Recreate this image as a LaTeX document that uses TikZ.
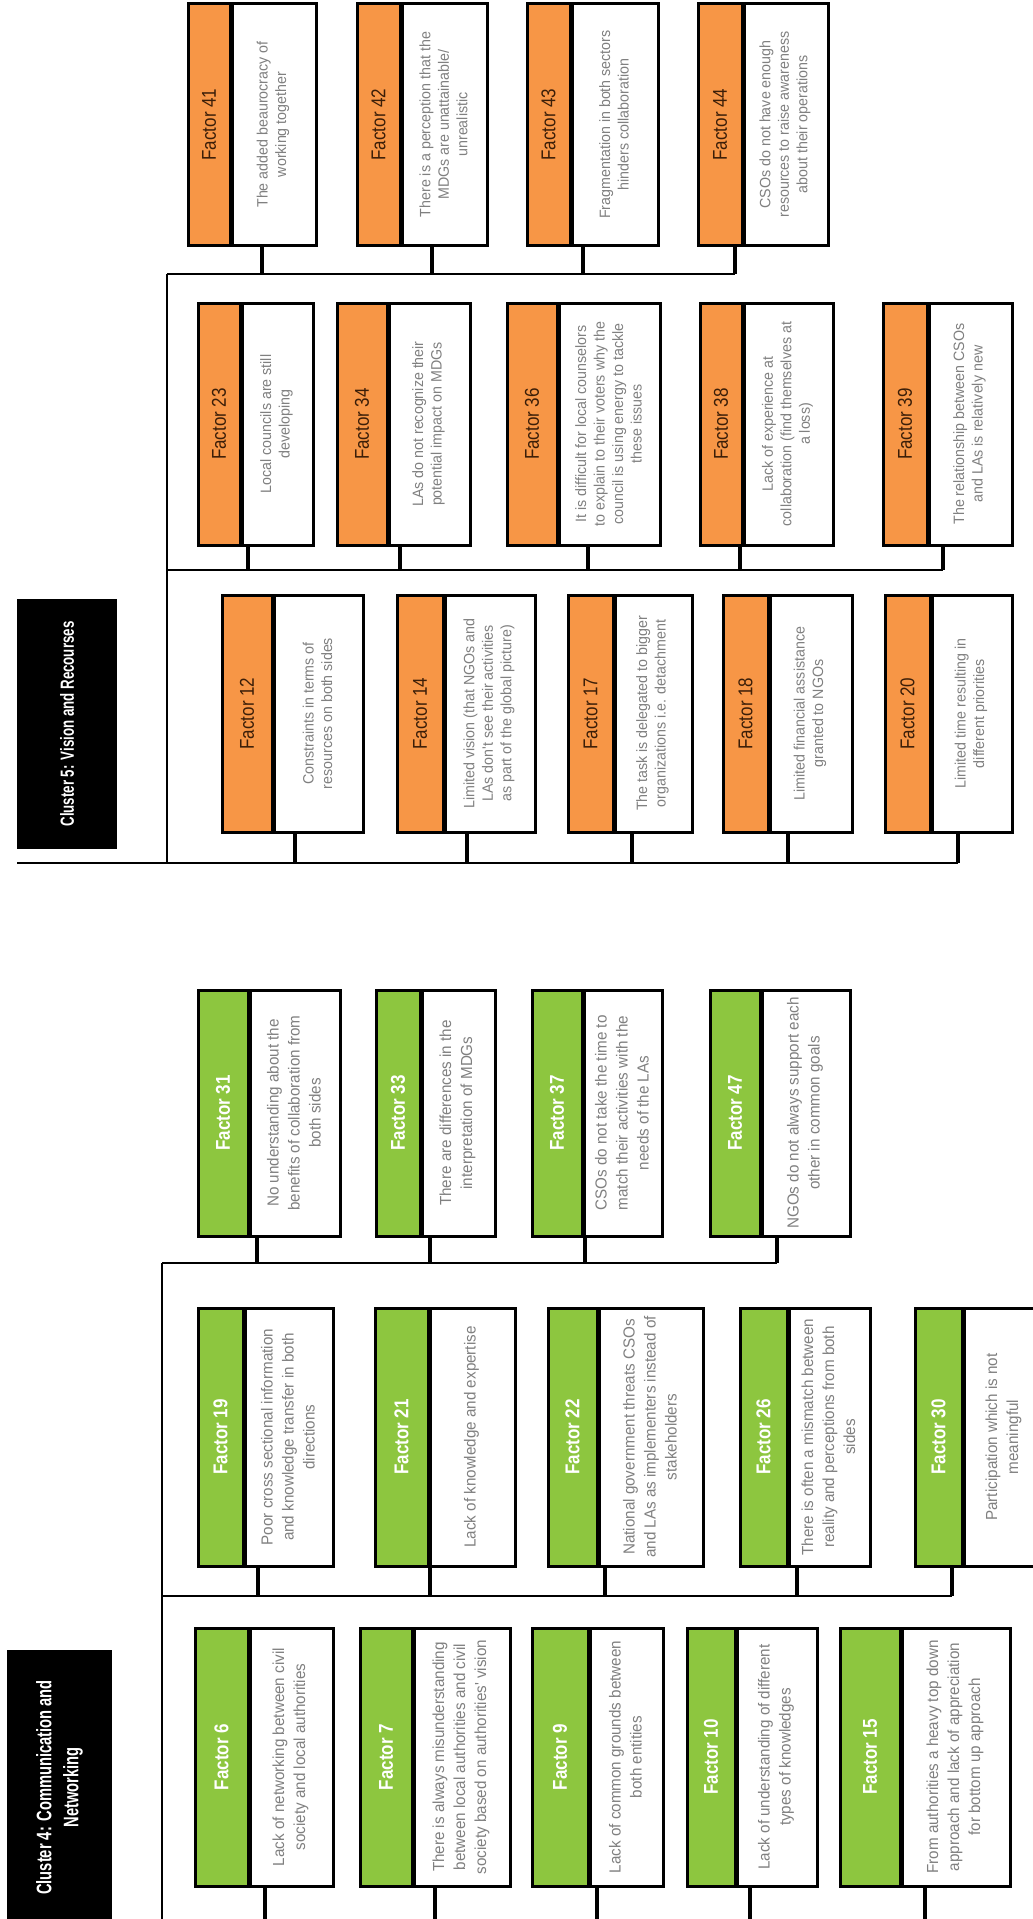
\documentclass[tikz,border=0pt]{standalone}
\usepackage{fontspec}
\newfontfamily\labfont[FakeStretch=0.85]{Liberation Sans}
\newfontfamily\bodyfont[FakeStretch=0.95]{Liberation Sans}
\newfontfamily\titfont[FakeStretch=0.7]{Liberation Sans}
\definecolor{orangeC}{HTML}{F79646}
\definecolor{greenC}{HTML}{8DC63F}
\definecolor{brownC}{HTML}{3B1E08}
\definecolor{grayC}{HTML}{808080}
\tikzset{
  outerbox/.style={rectangle, draw, line width=3pt, fill=white, rotate=90, inner sep=0pt},
  ostrip/.style={rectangle, draw, line width=3pt, fill=orangeC, rotate=90, inner sep=0pt, text=brownC, font=\labfont\fontsize{20}{22}\selectfont},
  gstrip/.style={rectangle, draw, line width=3pt, fill=greenC, rotate=90, inner sep=0pt, text=white, font=\labfont\bfseries\fontsize{20}{22}\selectfont},
  sepline/.style={line width=5pt},
  body5/.style={rotate=90, align=center, inner sep=0pt, text=grayC, font=\bodyfont\fontsize{15}{18.5}\selectfont},
  body4/.style={rotate=90, align=center, inner sep=0pt, text=grayC, font=\bodyfont\fontsize{16}{21}\selectfont},
  curbody/.style={body5},
  titlebox/.style={rectangle, fill=black, text=white, rotate=90, align=center, inner sep=0pt, font=\titfont\bfseries\fontsize{19}{26}\selectfont},
  bus/.style={line width=2.5pt},
  stubline/.style={line width=4pt},
}
% #1 id, #2 xl, #3 xs, #4 xr, #5 yt, #6 yb, #7 strip style, #8 label, #9 text
\newcommand\factorbox[9]{%
  \node[outerbox, minimum width={#6-#5}, minimum height={#4-#2}] (#1) at ({(#2+#4)/2},{(#5+#6)/2}) {};
  \node[#7, minimum width={#6-#5}, minimum height={#3-#2}] (#1h) at ({(#2+#3)/2},{(#5+#6)/2}) {#8};
  \draw[sepline] (#1h.south west) -- (#1h.south east);
  \node[curbody] (#1t) at ({(#3+#4)/2},{(#5+#6)/2}) {#9};
}
% #1 box id, #2 junction name, #3 x, #4 bus y
\newcommand\stubto[4]{%
  \coordinate (#2) at (#3,#4);
  \draw[stubline] (#1.west -| #2) -- (#2);
}
\begin{document}
\begin{tikzpicture}[x=1pt,y=-1pt]
\useasboundingbox (0,0) rectangle (1033,1919);
\fill[white] (0,0) rectangle (1033,1919);
\clip (0,0) rectangle (1033,1919);

% ===================== Cluster 5 =====================
\node[titlebox, minimum width=250, minimum height=100] (c5) at (67,724) {Cluster 5: Vision and Recourses};

% Row A
\factorbox{f41}{188}{230}{316}{4}{245}{ostrip}{Factor 41}{The added beaurocracy of\\working together}
\factorbox{f42}{357}{400}{487}{4}{245}{ostrip}{Factor 42}{There is a perception that the\\MDGs are unattainable/\\unrealistic}
\factorbox{f43}{527}{570}{658}{4}{245}{ostrip}{Factor 43}{Fragmentation in both sectors\\hinders collaboration}
\factorbox{f44}{698}{742}{828}{4}{245}{ostrip}{Factor 44}{CSOs do not have enough\\resources to raise awareness\\about their operations}
% Row B
\factorbox{f23}{198}{240}{313}{303}{545}{ostrip}{Factor 23}{Local councils are still\\developing}
\factorbox{f34}{337}{387}{470}{303}{545}{ostrip}{Factor 34}{LAs do not recognize their\\potential impact on MDGs}
\factorbox{f36}{507}{557}{660}{303}{545}{ostrip}{Factor 36}{It is difficult for local counselors\\to explain to their voters why the\\council is using energy to tackle\\these issues}
\factorbox{f38}{700}{742}{833}{303}{545}{ostrip}{Factor 38}{Lack of experience at\\collaboration (find themselves at\\a loss)}
\factorbox{f39}{883}{927}{1012}{303}{545}{ostrip}{Factor 39}{The relationship between CSOs\\and LAs is relatively new}
% Row C
\factorbox{f12}{222}{272}{363}{595}{832}{ostrip}{Factor 12}{Constraints in terms of\\resources on both sides}
\factorbox{f14}{397}{443}{535}{595}{832}{ostrip}{Factor 14}{Limited vision (that NGOs and\\LAs don't see their activities\\as part of the global picture)}
\factorbox{f17}{568}{613}{692}{595}{832}{ostrip}{Factor 17}{The task is delegated to bigger\\organizations i.e. detachment}
\factorbox{f18}{723}{768}{852}{595}{832}{ostrip}{Factor 18}{Limited financial assistance\\granted to NGOs}
\factorbox{f20}{885}{930}{1012}{595}{832}{ostrip}{Factor 20}{Limited time resulting in\\different priorities}

\stubto{f41}{j41}{262}{274}
\stubto{f42}{j42}{432}{274}
\stubto{f43}{j43}{583}{274}
\stubto{f44}{j44}{735}{274}
\stubto{f23}{j23}{248}{570}
\stubto{f34}{j34}{400}{570}
\stubto{f36}{j36}{588}{570}
\stubto{f38}{j38}{740}{570}
\stubto{f39}{j39}{943}{570}
\stubto{f12}{j12}{295}{863}
\stubto{f14}{j14}{467}{863}
\stubto{f17}{j17}{632}{863}
\stubto{f18}{j18}{788}{863}
\stubto{f20}{j20}{958}{863}

\coordinate (t5a) at (167,274);
\coordinate (t5b) at (167,570);
\coordinate (t5c) at (167,863);
\coordinate (m5) at (17,863);
\draw[bus] (t5a) -- (j44);
\draw[bus] (t5b) -- (j39);
\draw[bus] (m5) -- (j20);
\draw[bus] (t5a) -- (t5c);

% ===================== Cluster 4 =====================
\tikzset{curbody/.style={body4}}
\node[titlebox, font=\titfont\bfseries\fontsize{21}{27}\selectfont, minimum width=275, minimum height=105] (c4) at (59.5,1787.5) {Cluster 4: Communication and\\Networking};

% Row A
\factorbox{f31}{198}{248}{340}{990}{1236}{gstrip}{Factor 31}{No understanding about the\\benefits of collaboration from\\both sides}
\factorbox{f33}{376}{420}{495}{990}{1236}{gstrip}{Factor 33}{There are differences in the\\interpretation of MDGs}
\factorbox{f37}{532}{582}{662}{990}{1236}{gstrip}{Factor 37}{CSOs do not take the time to\\match their activities with the\\needs of the LAs}
\factorbox{f47}{710}{760}{850}{990}{1236}{gstrip}{Factor 47}{NGOs do not always support each\\other in common goals}
% Row B
\factorbox{f19}{198}{243}{333}{1308}{1566}{gstrip}{Factor 19}{Poor cross sectional information\\and knowledge transfer in both\\directions}
\factorbox{f21}{375}{428}{515}{1308}{1566}{gstrip}{Factor 21}{Lack of knowledge and expertise}
\factorbox{f22}{548}{597}{703}{1308}{1566}{gstrip}{Factor 22}{National government threats CSOs\\and LAs as implementers instead of\\stakeholders}
\factorbox{f26}{740}{787}{870}{1308}{1566}{gstrip}{Factor 26}{There is often a mismatch between\\reality and perceptions from both\\sides}
\factorbox{f30}{915}{962}{1045}{1308}{1566}{gstrip}{Factor 30}{Participation which is not\\meaningful}
% Row C
\factorbox{f6}{195}{248}{333}{1628}{1886}{gstrip}{Factor 6}{Lack of networking between civil\\society and local authorities}
\factorbox{f7}{360}{412}{510}{1628}{1886}{gstrip}{Factor 7}{There is always misunderstanding\\between local authorities and civil\\society based on authorities' vision}
\factorbox{f9}{532}{588}{663}{1628}{1886}{gstrip}{Factor 9}{Lack of common grounds between\\both entities}
\factorbox{f10}{687}{735}{817}{1628}{1886}{gstrip}{Factor 10}{Lack of understanding of different\\types of knowledges}
\factorbox{f15}{840}{900}{1010}{1628}{1886}{gstrip}{Factor 15}{From authorities a heavy top down\\approach and lack of appreciation\\for bottom up approach}

\stubto{f31}{j31}{257}{1263}
\stubto{f33}{j33}{430}{1263}
\stubto{f37}{j37}{585}{1263}
\stubto{f47}{j47}{777}{1263}
\stubto{f19}{j19}{258}{1596}
\stubto{f21}{j21}{430}{1596}
\stubto{f22}{j22}{605}{1596}
\stubto{f26}{j26}{797}{1596}
\stubto{f30}{j30}{952}{1596}
\stubto{f6}{j6}{265}{1935}
\stubto{f7}{j7}{435}{1935}
\stubto{f9}{j9}{597}{1935}
\stubto{f10}{j10}{750}{1935}
\stubto{f15}{j15}{925}{1935}

\coordinate (t4a) at (162,1263);
\coordinate (t4b) at (162,1596);
\coordinate (t4c) at (162,1935);
\draw[bus] (t4a) -- (j47);
\draw[bus] (t4b) -- (j30);
\draw[bus] (t4a) -- (t4c);
\end{tikzpicture}
\end{document}
